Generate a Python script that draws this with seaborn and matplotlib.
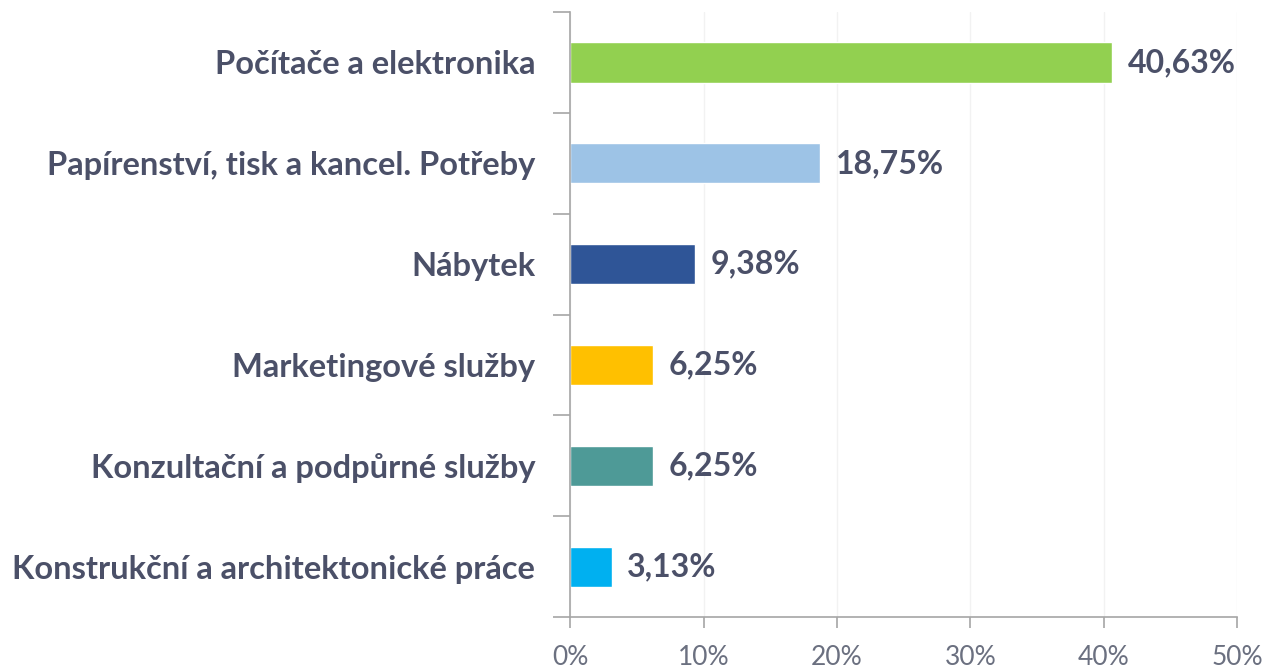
import matplotlib
matplotlib.use("Agg")
import matplotlib.pyplot as plt
import numpy as np
import pandas as pd
import seaborn as sns
from matplotlib.ticker import FuncFormatter

CATEGORIES = [
    "Počítače a elektronika",
    "Papírenství, tisk a kancel. Potřeby",
    "Nábytek",
    "Marketingové služby",
    "Konzultační a podpůrné služby",
    "Konstrukční a architektonické práce",
]
SHARES = [40.63, 18.75, 9.38, 6.25, 6.25, 3.13]
COLORS = ["#92D050", "#9DC3E6", "#2F5597", "#FFC000", "#4E9A97", "#00B0F0"]

TEXT = "#4B5068"
AXIS = "#A6A6A6"


def main() -> None:
    sns.set_style("white")
    plt.rcParams["font.family"] = ["Lato", "DejaVu Sans"]

    df = pd.DataFrame({"cat": CATEGORIES, "val": SHARES})

    fig = plt.figure(figsize=(12.64, 6.68), dpi=100)
    ax = fig.add_axes([0.451, 0.076, 0.528, 0.906])

    sns.barplot(data=df, x="val", y="cat", hue="cat", palette=COLORS, width=0.4,
                orient="h", legend=False, ax=ax, saturation=1)

    ax.set_xlim(0, 50)
    ax.set_ylim(5.5, -0.5)
    ax.set_xticks(np.arange(0, 51, 10))
    ax.xaxis.set_major_formatter(FuncFormatter(lambda v, _: f"{v:.0f}%"))
    ax.grid(axis="x", color="#F2F2F2", linewidth=1)
    ax.set_axisbelow(True)

    for side in ("top", "right"):
        ax.spines[side].set_visible(False)
    for side in ("left", "bottom"):
        ax.spines[side].set_color(AXIS)
        ax.spines[side].set_linewidth(1.2)

    ax.tick_params(axis="x", direction="out", length=8, width=1.2, color=AXIS,
                   labelsize=19, labelcolor="#6B7080", pad=12, bottom=True)
    ax.tick_params(axis="y", which="major", length=0, pad=25,
                   labelsize=23.5, labelcolor=TEXT)
    for lbl in ax.get_yticklabels():
        lbl.set_fontweight("bold")
    ax.set_yticks(np.arange(-0.5, 6, 1), minor=True)
    ax.tick_params(axis="y", which="minor", direction="out", length=12,
                   width=1.2, color=AXIS, left=True)

    # Excel-style data labels with decimal comma
    for i, v in enumerate(SHARES):
        ax.annotate(f"{v:.2f}%".replace(".", ","), (v, i), xytext=(11, 0),
                    textcoords="offset points", va="center", ha="left",
                    fontsize=23, fontweight="bold", color=TEXT)

    ax.set_xlabel("")
    ax.set_ylabel("")
    fig.savefig("out.png", dpi=100, facecolor="white")


if __name__ == "__main__":
    main()
